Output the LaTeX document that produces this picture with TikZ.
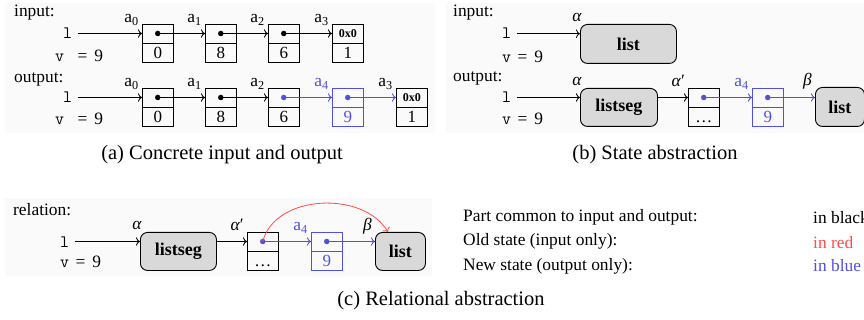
\documentclass[tikz,border=0pt]{standalone}
\usepackage{fontspec}
\setmainfont{Liberation Serif}
\usetikzlibrary{arrows.meta}
\definecolor{bl}{RGB}{80,80,220}
\definecolor{rd}{RGB}{255,75,75}
\definecolor{panelbg}{RGB}{250,250,250}
\definecolor{predfill}{RGB}{217,217,217}
% #1 name, #2 x, #3 y (top), #4 top text, #5 bottom text, #6 extra style
\newcommand\mkcell[6]{%
  \node[cell,#6,anchor=north west] (#1t) at (#2,#3) {#4};
  \node[cell,#6,anchor=north] (#1b) at (#1t.south) {#5};
}
\newcommand\valA{\texttt{v}\hspace{13.4pt}=\hspace{7pt}9}
\newcommand\valB{\texttt{v}\hspace{6.4pt}=\hspace{7pt}9}
\newcommand\gal{\textit{α}}
\newcommand\galp{\textit{α}′}
\newcommand\gbe{\textit{β}}
\begin{document}
\begin{tikzpicture}[x=1pt,y=-1pt,
  font=\fontsize{17.4}{20}\selectfont,
  cell/.style={draw, line width=0.9pt, minimum width=31.5pt, minimum height=19pt, inner sep=0pt, outer sep=0pt, font=\fontsize{17}{20}\selectfont},
  dotn/.style={circle, fill, inner sep=0pt, minimum size=5.5pt},
  ptr/.style={-{To[scale=1.2]}, line width=0.8pt},
  lab/.style={anchor=base east, inner sep=0pt, xshift=-3pt, yshift=1.5pt},
  glab/.style={anchor=base, inner sep=0pt, xshift=-3pt, yshift=2pt},
  pred/.style={draw, line width=0.9pt, fill=predfill, rounded corners=7pt, inner sep=0pt, anchor=north west, font=\fontsize{18}{20}\selectfont\bfseries},
  txt/.style={inner sep=0pt, anchor=base west},
  capt/.style={inner sep=0pt, font=\fontsize{20.5}{24}\selectfont}
]
\useasboundingbox (0,0) rectangle (864,320);
\fill[panelbg] (5,3) rectangle (435,133);
\fill[panelbg] (446,3) rectangle (864,133);
\fill[panelbg] (5,198) rectangle (432,276);

% ---------------- (a) ----------------
\node[txt] (inA) at (14,16.5) {input:};
\node[txt] (lA) at (63,38.5) {\texttt{l}};
\node[txt] (vA) at (55,62) {\valA};
\mkcell{p0}{142}{24}{}{0}{}
\mkcell{p1}{205}{24}{}{8}{}
\mkcell{p2}{268}{24}{}{6}{}
\mkcell{p3}{332}{24}{\fontsize{12}{12}\selectfont\bfseries 0x0}{1}{}
\node[dotn] (p0d) at (p0t) {};
\node[dotn] (p1d) at (p1t) {};
\node[dotn] (p2d) at (p2t) {};
\draw[ptr, shorten <=6pt] (p0t.west -| lA.east) -- (p0t.west);
\draw[ptr] (p0d.center) -- (p1t.west);
\draw[ptr] (p1d.center) -- (p2t.west);
\draw[ptr] (p2d.center) -- (p3t.west);
\node[lab] at (p0t.north west) {a\textsubscript{0}};
\node[lab] at (p1t.north west) {a\textsubscript{1}};
\node[lab] at (p2t.north west) {a\textsubscript{2}};
\node[lab] at (p3t.north west) {a\textsubscript{3}};

\node[txt] (outA) at (14,82.5) {output:};
\node[txt] (lA2) at (63,103) {\texttt{l}};
\node[txt] (vA2) at (55,125) {\valA};
\mkcell{q0}{142}{88}{}{0}{}
\mkcell{q1}{205}{88}{}{8}{}
\mkcell{q2}{268}{88}{}{6}{}
\mkcell{q4}{332}{88}{}{9}{draw=bl,text=bl}
\mkcell{q3}{396}{88}{\fontsize{12}{12}\selectfont\bfseries 0x0}{1}{}
\node[dotn] (q0d) at (q0t) {};
\node[dotn] (q1d) at (q1t) {};
\node[dotn, bl] (q2d) at (q2t) {};
\node[dotn, bl] (q4d) at (q4t) {};
\draw[ptr, shorten <=6pt] (q0t.west -| lA2.east) -- (q0t.west);
\draw[ptr] (q0d.center) -- (q1t.west);
\draw[ptr] (q1d.center) -- (q2t.west);
\draw[ptr, bl] (q2d.center) -- (q4t.west);
\draw[ptr, bl] (q4d.center) -- (q3t.west);
\node[lab] at (q0t.north west) {a\textsubscript{0}};
\node[lab] at (q1t.north west) {a\textsubscript{1}};
\node[lab] at (q2t.north west) {a\textsubscript{2}};
\node[lab, text=bl] at (q4t.north west) {a\textsubscript{4}};
\node[lab] at (q3t.north west) {a\textsubscript{3}};

\node[capt] (capA) at (222,155) {(a) Concrete input and output};

% ---------------- (b) ----------------
\node[txt] (inB) at (453,17) {input:};
\node[txt] (lB) at (502,39) {\texttt{l}};
\node[txt] (vB) at (502,62.5) {\valB};
\node[pred, minimum width=96pt, minimum height=39pt] (listB) at (580,24) {list};
\draw[ptr, shorten <=6pt] (lB.east) -- (lB.east -| listB.west);
\node[glab] at (listB.north west) {\gal};

\node[txt] (outB) at (453,82) {output:};
\node[txt] (lB2) at (502,103) {\texttt{l}};
\node[txt] (vB2) at (502,125) {\valB};
\node[pred, minimum width=77pt, minimum height=38pt] (segB) at (580,88) {listseg};
\mkcell{r0}{688}{88}{}{\vphantom{0}\dots}{}
\mkcell{r1}{752}{88}{}{9}{draw=bl,text=bl}
\node[pred, minimum width=49pt, minimum height=39pt] (list2B) at (815,87) {list};
\node[dotn, bl] (r0d) at (r0t) {};
\node[dotn, bl] (r1d) at (r1t) {};
\draw[ptr, shorten <=6pt] (r0t.west -| lB2.east) -- (r0t.west -| segB.west);
\draw[ptr] (r0t.west -| segB.east) -- (r0t.west);
\draw[ptr, bl] (r0d.center) -- (r1t.west);
\draw[ptr, bl] (r1d.center) -- (r1d.center -| list2B.west);
\node[glab] at (segB.north west) {\gal};
\node[lab] at (r0t.north west) {\galp};
\node[lab, text=bl] at (r1t.north west) {a\textsubscript{4}};
\node[lab] at (list2B.north west) {\gbe};

\node[capt] (capB) at (655,155) {(b) State abstraction};

% ---------------- (c) ----------------
\node[txt] (relC) at (13,216) {relation:};
\node[txt] (lC) at (60,247.5) {\texttt{l}};
\node[txt] (vC) at (60,267) {\valB};
\node[pred, minimum width=76pt, minimum height=38pt] (segC) at (140,232) {listseg};
\mkcell{s0}{247}{232}{}{\vphantom{0}\dots}{}
\mkcell{s1}{311}{232}{}{9}{draw=bl,text=bl}
\node[pred, minimum width=50pt, minimum height=38pt] (listC) at (375,232) {list};
\node[dotn, bl] (s0d) at (s0t) {};
\node[dotn, bl] (s1d) at (s1t) {};
\draw[ptr, shorten <=6pt] (s0t.west -| lC.east) -- (s0t.west -| segC.west);
\draw[ptr] (s0t.west -| segC.east) -- (s0t.west);
\draw[ptr, bl] (s0d.center) -- (s1t.west);
\draw[ptr, bl] (s1d.center) -- (s1d.center -| listC.west);
\draw[ptr, rd] (s0d.center) .. controls +(12,-47) and +(-25,-42) .. ([xshift=13pt]listC.north west);
\node[glab] at (segC.north west) {\gal};
\node[lab] at (s0t.north west) {\galp};
\node[lab, text=bl] at (s1t.north west) {a\textsubscript{4}};
\node[lab] at (listC.north west) {\gbe};

\node[txt] (lg1) at (463,222) {Part common to input and output:};
\node[txt] (lg2) at (463,246) {Old state (input only):};
\node[txt] (lg3) at (463,270) {New state (output only):};
\node[txt] (lc1) at (813,224) {in black};
\node[txt, text=rd] (lc2) at (813,248) {in red};
\node[txt, text=bl] (lc3) at (813,272) {in blue};

\node[capt] (capC) at (441,301) {(c) Relational abstraction};
\end{tikzpicture}
\end{document}
